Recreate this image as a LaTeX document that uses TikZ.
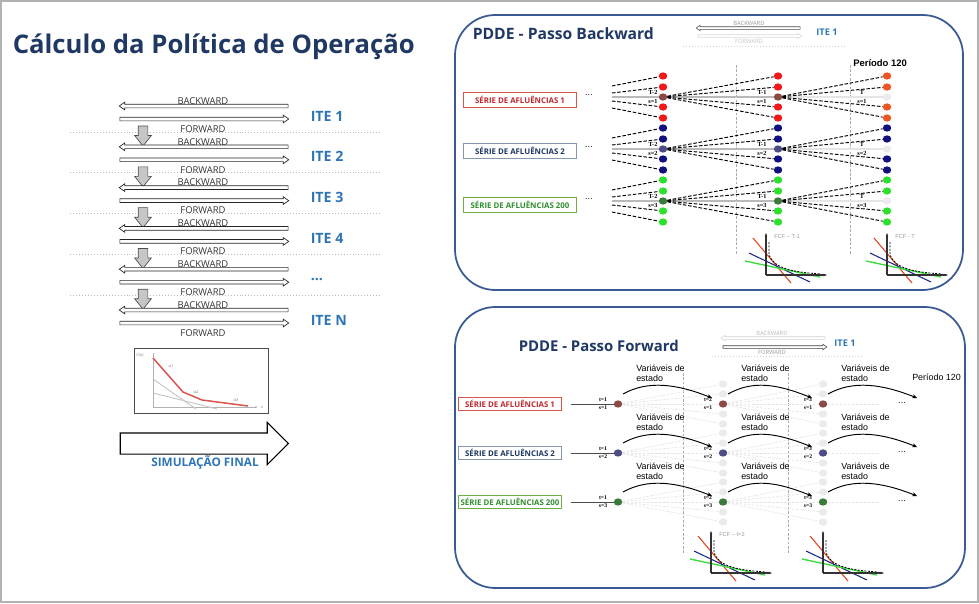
\documentclass[tikz,border=0pt]{standalone}
\usepackage{fontspec}
\setmainfont{Open Sans}
\newfontfamily\arialf{Liberation Sans}
\newfontfamily\timesf{Liberation Serif}
\usetikzlibrary{arrows.meta, positioning, calc, shapes.geometric, shapes.arrows}
\definecolor{navy}{HTML}{1F3864}
\definecolor{iteblue}{HTML}{2E75B6}
\definecolor{frame}{HTML}{3A5A94}
\definecolor{s1dot}{HTML}{F01818}
\definecolor{s1mid}{HTML}{8A4A46}
\definecolor{s1end}{HTML}{EE5522}
\definecolor{s1txt}{HTML}{C0282D}
\definecolor{s1box}{HTML}{D9534F}
\definecolor{s2dot}{HTML}{10107E}
\definecolor{s2mid}{HTML}{4C4C86}
\definecolor{s2txt}{HTML}{1F3864}
\definecolor{s2box}{HTML}{8497B0}
\definecolor{s3dot}{HTML}{2EE02E}
\definecolor{s3mid}{HTML}{3A7A3A}
\definecolor{s3txt}{HTML}{2F8F2F}
\definecolor{s3box}{HTML}{70AD47}
\definecolor{ghost}{HTML}{EBEBEB}
\definecolor{cutred}{HTML}{E2461C}
\definecolor{cutblue}{HTML}{1F2A8A}
\definecolor{cutgreen}{HTML}{3CDC3C}
\newcommand\itedots{...}

\begin{document}
\begin{tikzpicture}[x=0.026cm, y=-0.026cm,
    mtitle/.style={font=\bfseries\fontsize{19}{23}\selectfont, text=navy},
    ptitle/.style={font=\bfseries\fontsize{11.6}{14}\selectfont, text=navy},
    ite/.style={font=\bfseries\fontsize{10.5}{12}\selectfont, text=iteblue},
    minite/.style={font=\bfseries\fontsize{6.8}{8}\selectfont, text=iteblue},
    lab/.style={font=\fontsize{7}{8}\selectfont, text=black!80, inner sep=0pt},
    minilab/.style={font=\fontsize{4.3}{5}\selectfont, inner sep=0pt},
    tlab/.style={font=\timesf\bfseries\fontsize{4.6}{5}\selectfont, inner sep=0pt},
    flab/.style={font=\timesf\bfseries\fontsize{4.2}{5}\selectfont, inner sep=0pt},
    vtxt/.style={font=\arialf\fontsize{6.6}{7.6}\selectfont, align=left, inner sep=0pt},
    fcf/.style={font=\arialf\fontsize{4.2}{5}\selectfont, text=gray!80, inner sep=0pt},
    serbox/.style={rectangle, draw, fill=white, line width=0.8pt,
                   minimum width=2.94cm, minimum height=0.39cm,
                   font=\bfseries\fontsize{5.8}{7}\selectfont, inner sep=0pt},
    barrow/.style={single arrow, draw=black!85, fill=white, line width=0.5pt,
                   minimum height=4.39cm, minimum width=0pt, inner xsep=0pt, inner ysep=0.039cm,
                   single arrow head extend=0.052cm, single arrow tip angle=70},
    minibar/.style={single arrow, line width=0.4pt, fill=white,
                    minimum height=2.7cm, minimum width=0pt, inner xsep=0pt, inner ysep=0.026cm,
                    single arrow head extend=0.04cm, single arrow tip angle=70},
    downarr/.style={single arrow, shape border rotate=270, draw=black!70, fill=gray!45, line width=0.5pt,
                    minimum height=0.52cm, minimum width=0pt, inner ysep=0pt, inner xsep=0.117cm,
                    single arrow head extend=0.091cm, single arrow tip angle=77},
    simarr/.style={single arrow, draw=black, fill=white, line width=0.8pt,
                   minimum height=4.37cm, minimum width=0pt, inner xsep=0pt, inner ysep=0.26cm,
                   single arrow head extend=0.273cm, single arrow tip angle=90},
    sepline/.style={gray!55, line width=0.6pt, dash pattern=on 0.6pt off 1.6pt},
    panel/.style={draw=frame, line width=1.3pt, rounded corners=1.05cm},
    bnode/.style={ellipse, minimum width=0.22cm, minimum height=0.19cm, inner sep=0pt},
    fan/.style={black, line width=0.7pt, dash pattern=on 2.6pt off 1.3pt},
    trunk/.style={gray!55, line width=1.1pt},
    ghostfan/.style={gray!20, line width=0.5pt, dash pattern=on 2pt off 1pt},
    varr/.style={black, line width=0.7pt, -{Stealth[length=3.5pt, width=3pt]}},
    vline/.style={gray!65, line width=0.6pt, dash pattern=on 2pt off 1.2pt},
    fcfaxis/.style={black!80, line width=0.8pt, -{Stealth[length=2.5pt]}},
]
\useasboundingbox (0,0) rectangle (979,603);
\draw[gray!60, line width=0.8pt] (1,1) rectangle (978,602);

% ---------------- left: iterations ----------------
\node[mtitle, anchor=west] (maintitle) at (8,47) {Cálculo da Política de Operação};

\foreach \i in {1,...,5}{
    \pgfmathsetmacro{\yb}{106+40.8*(\i-1)}
    \coordinate (sl\i) at (70,\yb+26);
    \coordinate (sr\i) at (380,\yb+26);
    \draw[sepline] (sl\i) -- (sr\i);
    \node[downarr] (dn\i) at (143,\yb+27) {};
}
\foreach \i/\t in {1/ITE 1, 2/ITE 2, 3/ITE 3, 4/ITE 4, 5/\itedots, 6/ITE N}{
    \pgfmathsetmacro{\yb}{106+40.8*(\i-1)}
    \node[barrow, shape border rotate=180] (bk\i) at (205,\yb) {};
    \node[barrow] (fw\i) at (203,\yb+13) {};
    \node[lab] (bkl\i) at (203,\yb-5) {BACKWARD};
    \node[lab] (fwl\i) at (203,\yb+23) {FORWARD};
    \node[ite, anchor=west] (ite\i) at (306,\yb+10) {\t};
}

% small cost function picture
\draw[gray!60!black, line width=0.5pt] (134,348) rectangle (268,413);
\draw[gray!60, line width=0.4pt, -{Latex[length=2pt]}] (153,407) -- (258,407);
\draw[gray!60, line width=0.4pt] (153,407) -- (153,353);
\draw[gray!45, line width=0.7pt] (153,379) -- (196,409);
\draw[gray!45, line width=0.7pt] (153,393) -- (217,409);
\draw[s1box, line width=1.1pt] (153,358) -- (183,392) -- (202,400) -- (248,406);
\node[font=\fontsize{3}{3.5}\selectfont, text=gray] (cx) at (140,355) {C(x)};
\node[font=\fontsize{3}{3.5}\selectfont, text=gray] (xx) at (262,407) {x};
\node[font=\fontsize{3}{3.5}\selectfont, text=gray] (al1) at (171,366) {α1};
\node[font=\fontsize{3}{3.5}\selectfont, text=gray] (al2) at (196,392) {α2};
\node[font=\fontsize{3}{3.5}\selectfont, text=gray] (al3) at (236,400) {α3};

\node[simarr] (sim) at (199,443.5) {};
\node[font=\bfseries\fontsize{8.7}{10}\selectfont, text=iteblue, inner sep=0pt] (simlab) at (205,462) {SIMULAÇÃO FINAL};

% ---------------- right top: backward pass ----------------
\draw[panel] (455,15) rectangle (963,290);
\node[ptitle, anchor=west] (btitle) at (468,34) {PDDE - Passo Backward};

\node[minibar, draw=black!70, shape border rotate=180] (pbk1) at (749,28) {};
\node[minilab, text=gray!80] (pbkt1) at (749,23) {BACKWARD};
\node[minibar, draw=gray!30] (pfw1) at (749,36) {};
\node[minilab, text=gray!45] (pfwt1) at (749,41) {FORWARD};
\draw[sepline, gray!35] (683,46) -- (845,46);
\node[minite] (pite1) at (827,32) {ITE 1};

\node[font=\arialf\bfseries\fontsize{7}{8}\selectfont, anchor=west, inner sep=0pt] (bper) at (853,63) {Período 120};

\draw[vline] (736,65) -- (736,255);
\draw[vline] (850,65) -- (850,255);

\foreach \s/\cy/\dc/\mc/\ec in {1/97/s1dot/s1mid/s1end, 2/149/s2dot/s2mid/s2dot, 3/201/s3dot/s3mid/s3dot}{
    \foreach \c/\cx/\oc/\ic/\tl/\tx in {1/663/\dc/\mc/T-2/653, 2/778/\dc/\mc/T-1/762, 3/887/\ec/ghost/T/862}{
        \node[bnode, fill=\ic] (b\s-\c-3) at (\cx,\cy) {};
        \foreach \k/\dy in {1/-21, 2/-10, 4/10, 5/21}
            \node[bnode, fill=\oc] (b\s-\c-\k) at (\cx,\cy+\dy) {};
        \node[tlab] (bt\s-\c) at (\tx,\cy-5) {\tl};
        \node[tlab] (bs\s-\c) at (\tx,\cy+4) {s=\s};
    }
}
\foreach \s/\cy in {1/97, 2/149, 3/201}{
    \coordinate (bl\s) at (612,\cy);
    \draw[trunk] (bl\s) -- (b\s-1-3);
    \draw[trunk] (b\s-1-3) -- (b\s-2-3);
    \draw[trunk, gray!20] (b\s-2-3) -- (b\s-3-3);
    \foreach \k/\dy in {1/-11, 2/-4, 4/4, 5/11}{
        \coordinate (bl\s-\k) at (612,\cy+\dy);
        \draw[fan] (bl\s-\k) -- (b\s-1-\k);
        \draw[fan] (b\s-1-3) -- (b\s-2-\k);
        \draw[fan] (b\s-2-3) -- (b\s-3-\k);
    }
    \node[lab] (bdots\s) at (589,\cy-2) {...};
}
\node[serbox, draw=s1box, text=s1txt] (bser1) at (520,100) {SÉRIE DE AFLUÊNCIAS 1};
\node[serbox, draw=s2box, text=s2txt] (bser2) at (520,151) {SÉRIE DE AFLUÊNCIAS 2};
\node[serbox, draw=s3box, text=s3txt] (bser3) at (520,205) {SÉRIE DE AFLUÊNCIAS 200};

% ---------------- right bottom: forward pass ----------------
\draw[panel] (455,307) rectangle (965,588);
\node[ptitle, anchor=west, font=\bfseries\fontsize{11}{13}\selectfont] (ftitle) at (514,346) {PDDE - Passo Forward};

\node[minibar, draw=gray!35, shape border rotate=180] (pbk2) at (774,338) {};
\node[minilab, text=gray!55] (pbkt2) at (772,333) {BACKWARD};
\node[minibar, draw=black!75] (pfw2) at (774,347) {};
\node[minilab, text=gray!80] (pfwt2) at (772,352) {FORWARD};
\draw[sepline, gray!35] (712,356) -- (862,356);
\node[minite] (pite2) at (845,343) {ITE 1};

\node[font=\arialf\fontsize{6.6}{8}\selectfont, anchor=west, inner sep=0pt] (fper) at (912,377) {Período 120};

\draw[vline] (683,373) -- (683,553);
\draw[vline] (788,373) -- (788,553);

\foreach \s/\ry/\mc in {1/404/s1mid, 2/453/s2mid, 3/502/s3mid}{
    \foreach \c/\cx in {2/723, 3/823}
        \foreach \k/\dy in {1/-20, 2/-10, 4/10, 5/20}
            \node[bnode, fill=ghost] (fg\s-\c-\k) at (\cx,\ry+\dy) {};
    \foreach \c/\cx in {1/618, 2/723, 3/823}{
        \node[bnode, fill=\mc] (f\s-\c) at (\cx,\ry) {};
        \node[flab] (ft\s-\c) at (\cx-15,\ry-4) {t=\c};
        \node[flab] (fs\s-\c) at (\cx-15,\ry+4) {s=\s};
    }
    \coordinate (fe\s) at (880,\ry);
    \foreach \k in {1,2,4,5}{
        \draw[ghostfan] (f\s-1) -- (fg\s-2-\k);
        \draw[ghostfan] (f\s-2) -- (fg\s-3-\k);
    }
    \draw[ghostfan] (f\s-1) -- (f\s-2);
    \draw[ghostfan] (f\s-2) -- (f\s-3);
    \draw[ghostfan] (f\s-3) -- (fe\s);
    \foreach \c/\cx/\nx in {1/618/723, 2/723/823, 3/823/928}{
        \coordinate (va\s-\c) at (\cx+5,\ry-10);
        \coordinate (vb\s-\c) at (\nx-11,\ry-6);
        \draw[varr] (va\s-\c) .. controls ($(va\s-\c)+(25,-14)$) and ($(vb\s-\c)+(-35,-14)$) .. (vb\s-\c);
        \node[vtxt, anchor=west] (vt\s-\c) at (\cx+18,\ry-31) {Variáveis de\\estado};
    }
    \node[lab] (fdots\s) at (902,\ry-1) {...};
}
\node[serbox, draw=s1box, text=s1txt, minimum width=2.7cm, minimum height=0.36cm] (fser1) at (510,404) {SÉRIE DE AFLUÊNCIAS 1};
\node[serbox, draw=s2box, text=s2txt, minimum width=2.7cm, minimum height=0.36cm] (fser2) at (510,453) {SÉRIE DE AFLUÊNCIAS 2};
\node[serbox, draw=s3box, text=s3txt, minimum width=2.7cm, minimum height=0.36cm] (fser3) at (510,502) {SÉRIE DE AFLUÊNCIAS 200};
\foreach \s in {1,2,3}
    \draw[gray!60!black, line width=0.5pt, shorten <=6pt] (fser\s) -- (f\s-1);

% ---------------- future cost functions ----------------
\foreach \g/\gx/\gy/\gl in {1/766/275/{FCF – T-1}, 2/887/275/{FCF - T}, 3/711/573/{FCF – t=2}, 4/823/573/{}}{
    \begin{scope}[shift={(\gx,\gy)}]
        \draw[cutred, line width=0.8pt] (-13,-37) -- (25,8);
        \draw[cutblue, line width=0.8pt] (-17,-22) -- (44,7);
        \draw[cutgreen, line width=1pt] (-21,-14) -- (54,2);
        \draw[black, line width=0.6pt, dash pattern=on 1.5pt off 1pt] (3,-33) -- (3,-20) .. controls (8,-8) and (22,-3) .. (55,-1);
        \draw[fcfaxis] (0,0) -- (61,0);
        \draw[fcfaxis] (0,0) -- (0,-42);
        \node[fcf, anchor=west] (fcfl\g) at (8,-38) {\gl};
    \end{scope}
}
\end{tikzpicture}
\end{document}
